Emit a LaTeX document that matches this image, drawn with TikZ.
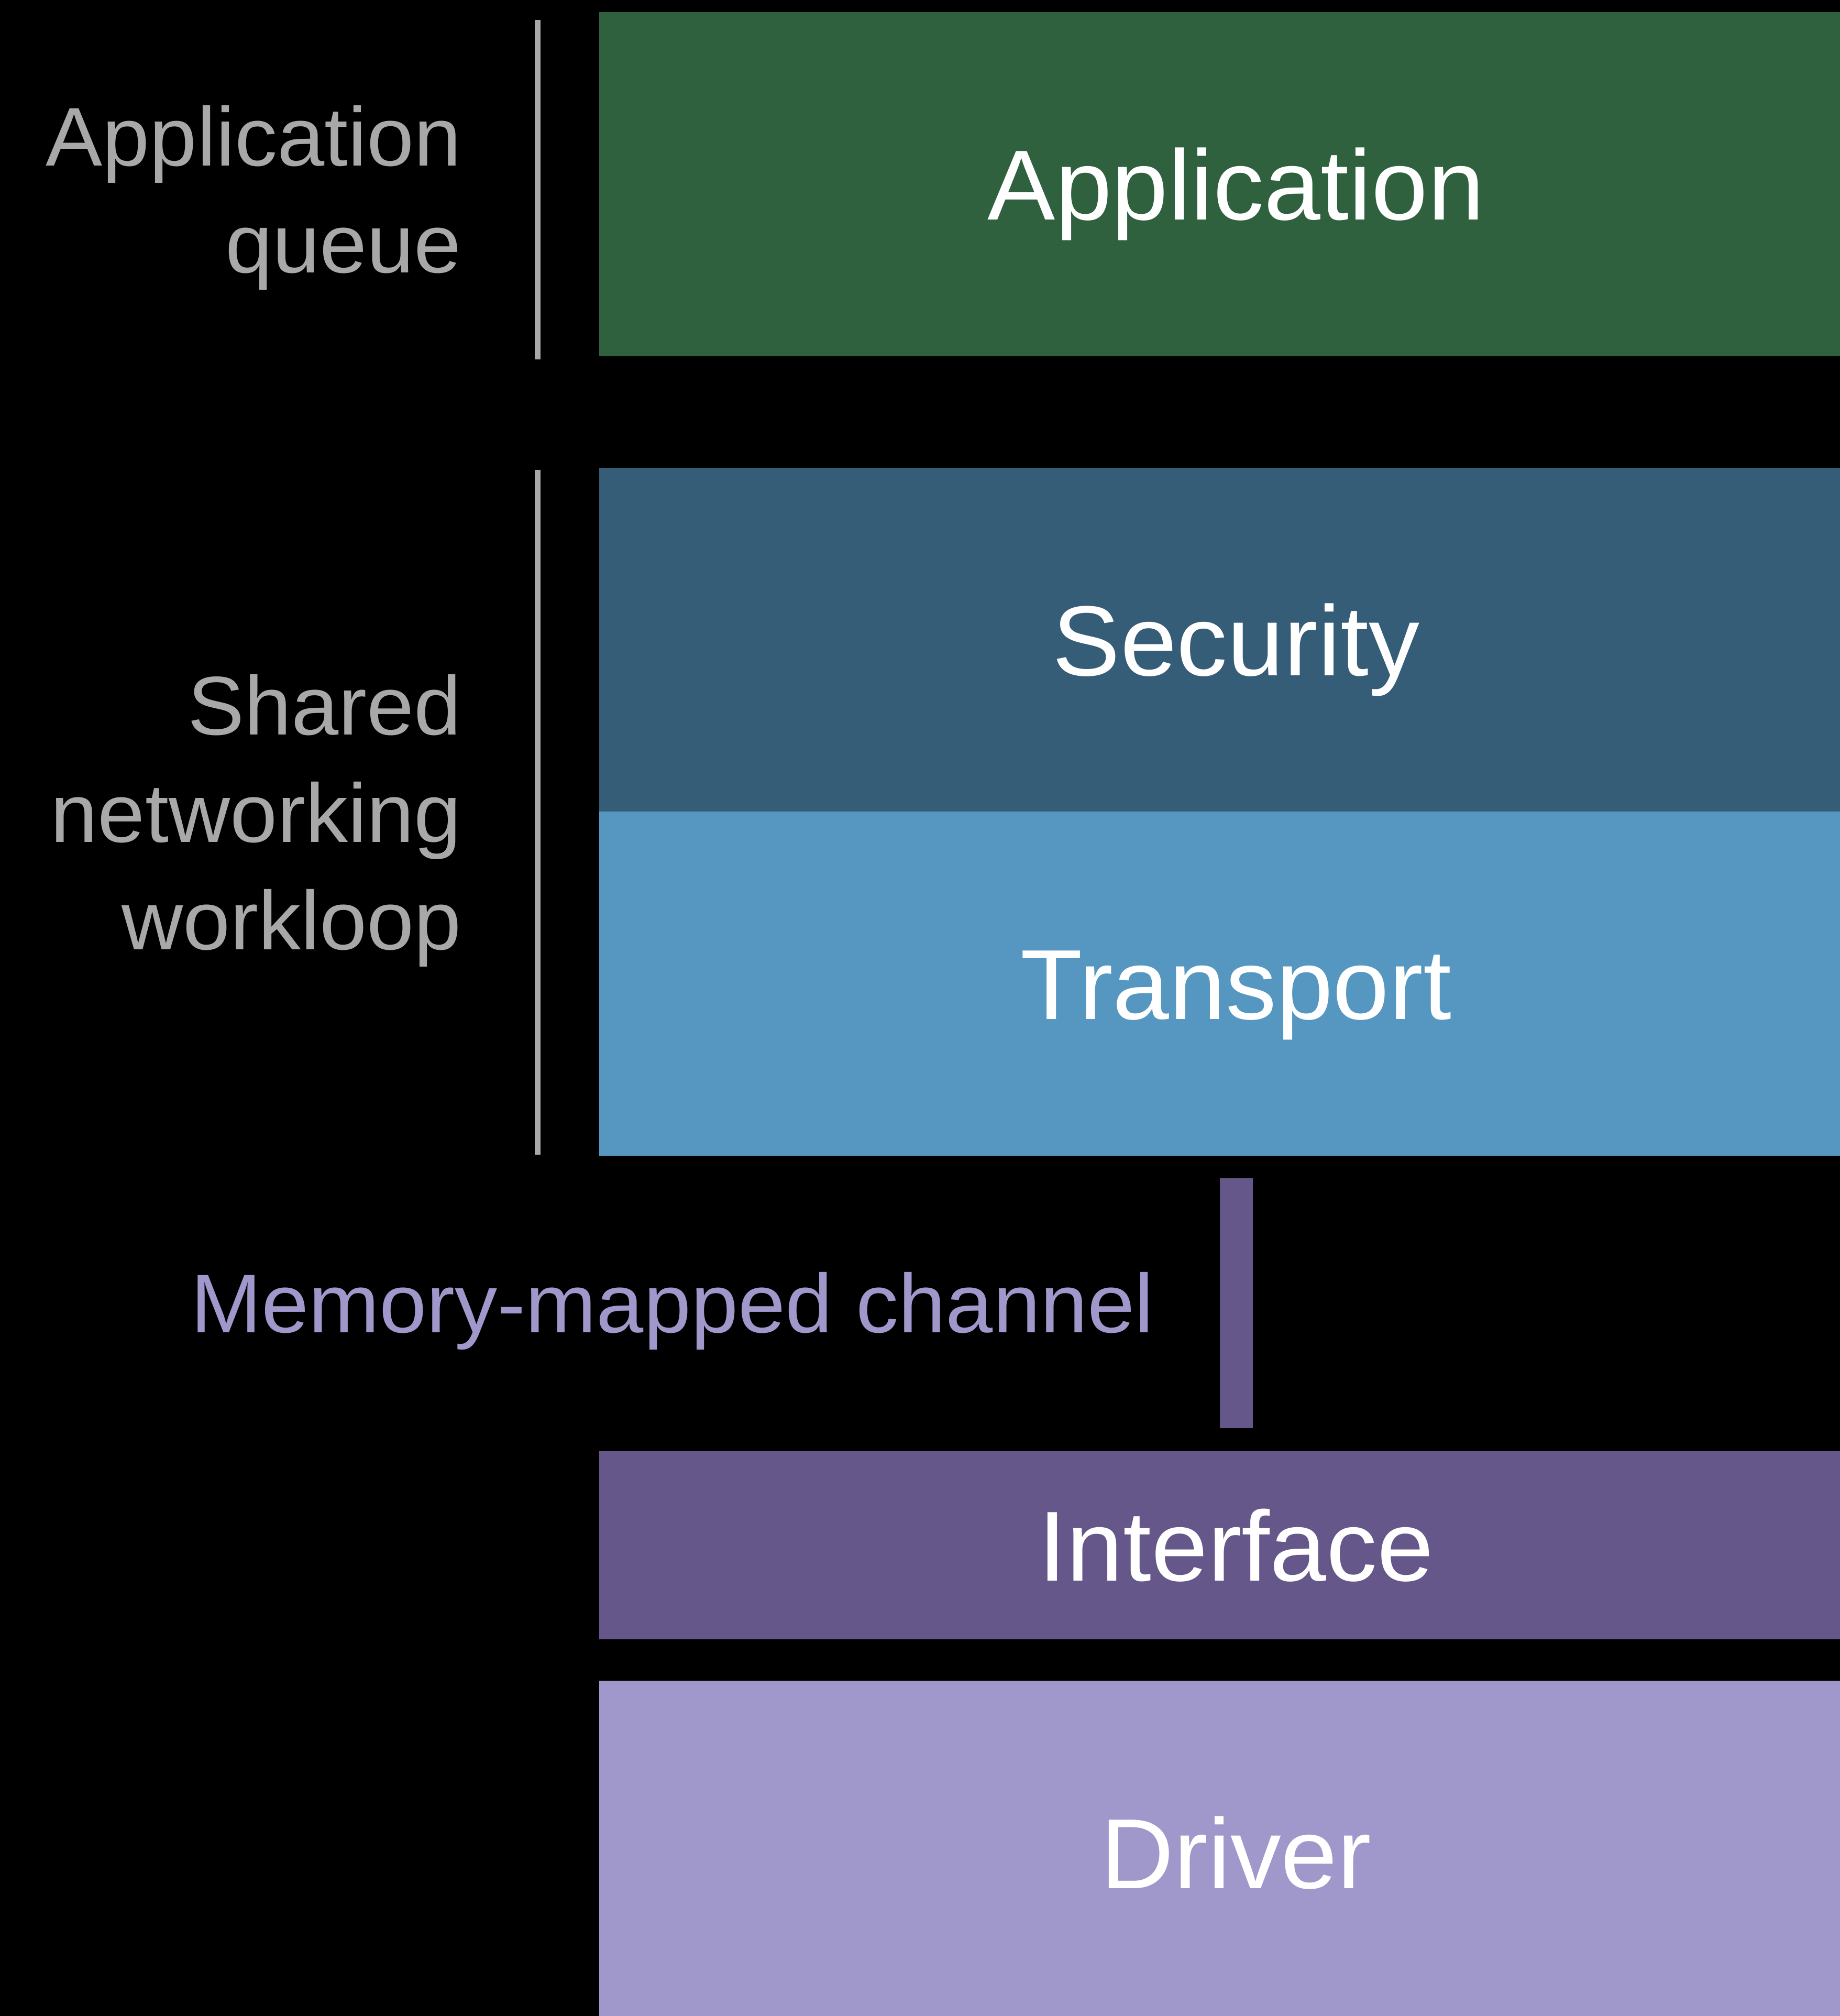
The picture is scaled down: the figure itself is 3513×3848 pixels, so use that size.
\documentclass[tikz,border=0pt]{standalone}
\usepackage{fontspec}
\setmainfont[FakeStretch=1.02]{Liberation Sans}
\definecolor{appgreen}{HTML}{30613E}
\definecolor{secblue}{HTML}{355D77}
\definecolor{trblue}{HTML}{5597C1}
\definecolor{ifpurple}{HTML}{655789}
\definecolor{drvlilac}{HTML}{A097CB}
\definecolor{sidegray}{HTML}{A8A8A8}
\begin{document}
\begin{tikzpicture}[x=0.1pt,y=-0.1pt,
  layer/.style={rectangle, inner sep=0pt, minimum width=243.2pt,
    text=white, font=\fontsize{19pt}{19pt}\selectfont,
    text height=13.6pt, text depth=0pt},
  side/.style={inner sep=0pt, anchor=base east, text=sidegray,
    font=\fontsize{15.9pt}{15.9pt}\selectfont},
  bracket/.style={draw=sidegray, line width=1.1pt},
  chan/.style={draw=ifpurple, line width=6.3pt, shorten <=4.1pt, shorten >=4.2pt},
]
% black page
\fill[black] (0,0) rectangle (3513,3848);
\useasboundingbox (0,0) rectangle (3513,3848);

% stack of layers
\node[layer, fill=appgreen, minimum height=65.7pt] (app) at (2360,351.5) {Application};
\node[layer, fill=secblue,  minimum height=65.6pt] (sec) at (2360,1221)  {Security};
\node[layer, fill=trblue,   minimum height=65.7pt] (tr)  at (2360,1877.5) {Transport};
\node[layer, fill=ifpurple, minimum height=35.9pt] (if)  at (2360,2949.5) {Interface};
\node[layer, fill=drvlilac, minimum height=65.7pt] (drv) at (2360,3536.5) {Driver};

% memory-mapped channel between transport and interface
\draw[chan] (tr.south) -- (if.north);
\node[side, text=drvlilac] (mmc) at (2205,2543) {Memory-mapped channel};

% execution context brackets
\draw[bracket] (1026.5,38) -- (1026.5,686);
\draw[bracket] (1026.5,897) -- (1026.5,2204);

\node[side] (aq1) at (883,316) {Application};
\node[side] (aq2) at (883,520) {queue};

\node[side] (sn1) at (883,1402) {Shared};
\node[side] (sn2) at (883,1607) {networking};
\node[side] (sn3) at (883,1812) {workloop};
\end{tikzpicture}
\end{document}
